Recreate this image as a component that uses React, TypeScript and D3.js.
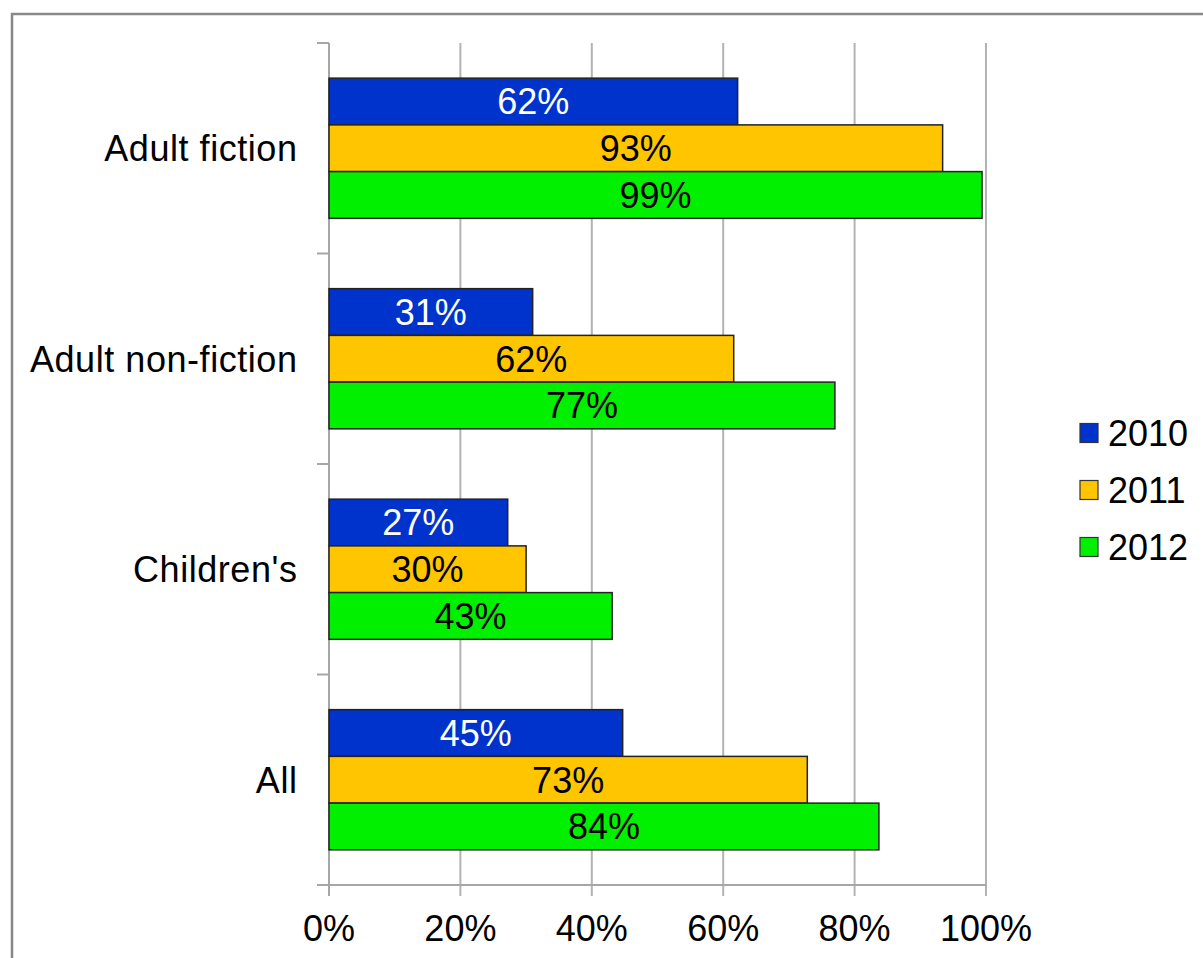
import React from "react";
import * as d3 from "d3";

const categories = ["Adult fiction", "Adult non-fiction", "Children's", "All"];
const seriesNames = ["2010", "2011", "2012"];
const values2010 = [62.2, 31, 27.2, 44.7];
const values2011 = [93.4, 61.6, 30, 72.8];
const values2012 = [99.4, 77, 43.1, 83.7];
const seriesColors = ["#0033cc", "#ffc600", "#00f000"];
const labelColors = ["#ffffff", "#000000", "#000000"];
const xTicks = [0, 20, 40, 60, 80, 100];

export default function App() {
  const W = 1203, H = 958;
  const left = 329, right = 986, top = 43, bottom = 885;
  const x = d3.scaleLinear().domain([0, 100]).range([left, right]);
  const y = d3.scaleBand().domain(categories).range([top, bottom]).paddingInner(0.334).paddingOuter(0.167);
  const band = (bottom - top) / categories.length;
  const inner = d3.scaleBand().domain(seriesNames).range([0, y.bandwidth()]);
  const series = [values2010, values2011, values2012];
  const font = "Liberation Sans, Arial, sans-serif";
  const fs = 36;

  return (
    <svg width={W} height={H} style={{ position: "absolute", left: 0, top: 0, background: "#fff" }} fontFamily={font}>
      <rect x={12} y={14} width={1200} height={960} fill="#fff" stroke="#888" strokeWidth={2.5} />
      {xTicks.map((t) => (
        <line key={t} x1={x(t)} x2={x(t)} y1={top} y2={bottom + 11} stroke="#b3b3b3" strokeWidth={2} />
      ))}
      <line x1={left} x2={left} y1={top} y2={bottom + 11} stroke="#a6a6a6" strokeWidth={2} />
      <line x1={left - 12} x2={right} y1={bottom} y2={bottom} stroke="#a6a6a6" strokeWidth={2} />
      {d3.range(categories.length + 1).map((i) => (
        <line key={i} x1={left - 12} x2={left} y1={top + i * band} y2={top + i * band} stroke="#a6a6a6" strokeWidth={2} />
      ))}
      {categories.map((c, ci) => (
        <g key={c}>
          {series.map((vals, si) => {
            const y0 = (y(c) as number) + (inner(seriesNames[si]) as number);
            const h = inner.bandwidth();
            return (
              <g key={si}>
                <rect x={x(0)} y={y0} width={x(vals[ci]) - x(0)} height={h} fill={seriesColors[si]} stroke="#222" strokeWidth={1.5} />
                <text x={(x(0) + x(vals[ci])) / 2} y={y0 + h / 2} dy="0.36em" textAnchor="middle" fontSize={fs} fill={labelColors[si]}>
                  {Math.round(vals[ci])}%
                </text>
              </g>
            );
          })}
          <text x={297.5} y={top + ci * band + band / 2} dy="0.36em" textAnchor="end" fontSize={fs} letterSpacing={0.55} fill="#000">
            {c}
          </text>
        </g>
      ))}
      {xTicks.map((t) => (
        <text key={t} x={x(t)} y={928} dy="0.36em" textAnchor="middle" fontSize={fs} fill="#000">
          {t}%
        </text>
      ))}
      {seriesNames.map((s, i) => (
        <g key={s} transform={`translate(1080, ${433 + i * 57})`}>
          <rect x={0} y={-9.5} width={18} height={19} fill={seriesColors[i]} stroke="#333" strokeWidth={1.2} />
          <text x={28} y={0} dy="0.36em" fontSize={fs} fill="#000">{s}</text>
        </g>
      ))}
    </svg>
  );
}
